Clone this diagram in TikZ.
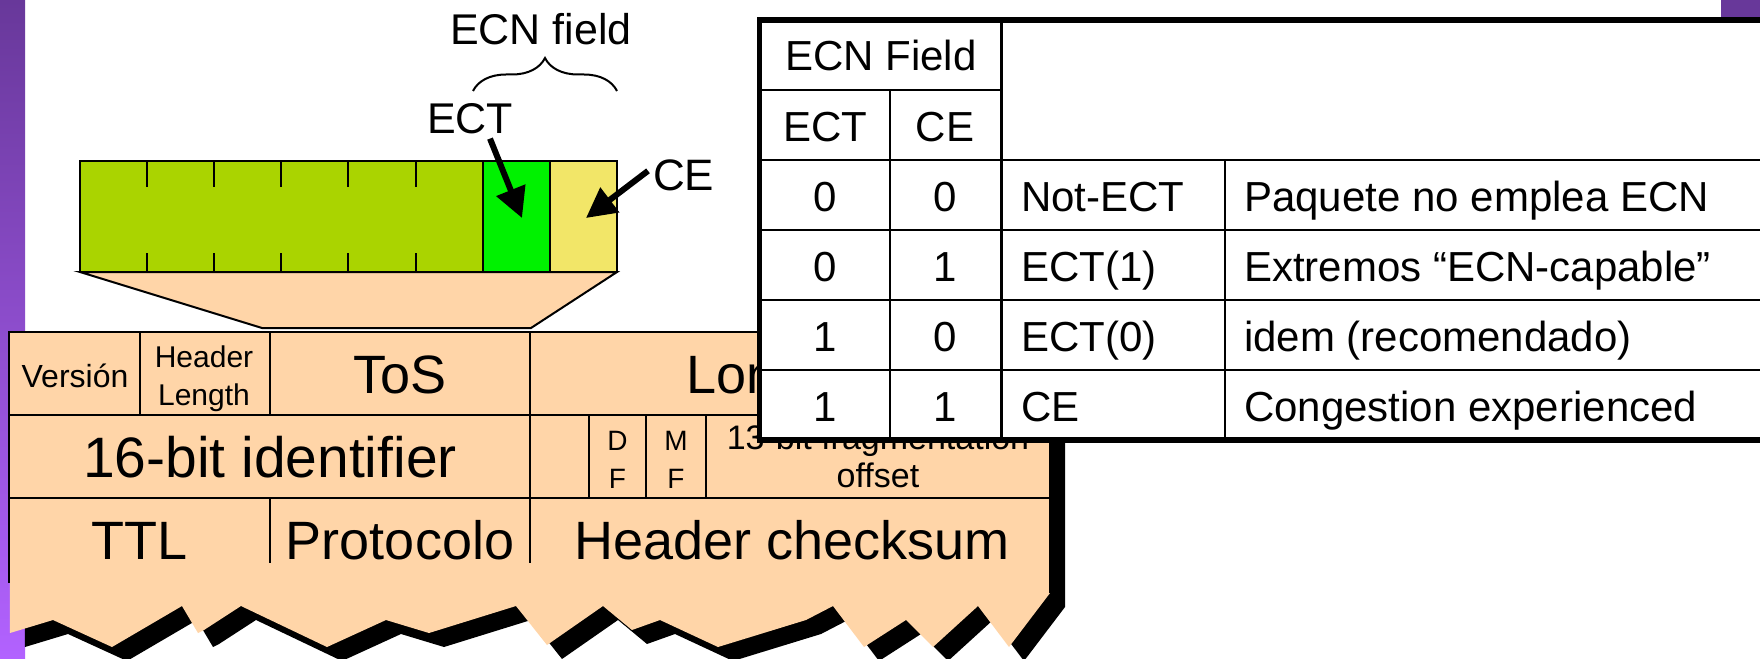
\documentclass[tikz,border=0pt]{standalone}
\usepackage{fontspec}
\setmainfont{Liberation Sans}
\usetikzlibrary{arrows.meta,decorations.pathreplacing}
\definecolor{peach}{RGB}{255,213,168}
\definecolor{barlime}{RGB}{170,212,0}
\definecolor{bargreen}{RGB}{0,242,0}
\definecolor{baryellow}{RGB}{242,230,104}
\definecolor{purpletop}{RGB}{104,56,154}
\definecolor{purplebot}{RGB}{178,98,255}
\newcommand\myfs[1]{\fontsize{#1}{#1}\selectfont}
\newcommand\hdrshape{(8.6,332) -- (1050,332) -- (1050,593) -- (1009,647) -- (978,606) -- (933,647) -- (906,620) -- (864,647) -- (833,606) -- (806,620) -- (718,647) -- (660,620) -- (632,630) -- (603,606) -- (547,645) -- (516,606) -- (429,633) -- (386,620) -- (327,647) -- (241,606) -- (204,630) -- (198,633) -- (182,606) -- (112,647) -- (53,620) -- (10,633) -- cycle}
\begin{document}
\begin{tikzpicture}[x=1pt,y=-1pt,
  lbl/.style={inner sep=0pt,anchor=base},
  lblw/.style={inner sep=0pt,anchor=base west},
  gridline/.style={line width=2pt},
  tabline/.style={line width=2.6pt},
  tabouter/.style={line width=5.5pt},
  bigarrow/.style={line width=6pt,-{Triangle[length=30pt,width=30pt]}},
  hdrbig/.style={font=\myfs{54}},
  tabtxt/.style={font=\myfs{42}}]
\useasboundingbox (0,0) rectangle (1760,658);
\fill[white] (0,0) rectangle (1760,658);
% purple decorations
\shade[top color=purpletop,bottom color=purplebot] (0,0) rectangle (25,658);
\fill[purpletop] (1721,0) rectangle (1760,18);
% ECN field brace
\draw[line width=2pt,decorate,decoration={brace,amplitude=33pt}] (473,91) -- (617,91);
\node[lbl,font=\myfs{43}] (ecnlabel) at (541,45) {ECN field};
% ToS byte bar
\fill[barlime] (80,161) rectangle (483,272);
\fill[bargreen] (483,161) rectangle (550,272);
\fill[baryellow] (550,161) rectangle (617,272);
\draw[gridline] (80,161) rectangle (617,272);
\draw[gridline] (483,161) -- (483,272) (550,161) -- (550,272);
\foreach \k in {1,...,5} {
  \draw[gridline] ({80+67.1*\k},161) -- ++(0,26) ({80+67.1*\k},272) -- ++(0,-19);
}
\filldraw[fill=peach,gridline] (80,272) -- (617,272) -- (531,328) -- (262,328) -- cycle;
% IP header
\fill[black,shift={(15,14)}] \hdrshape;
\fill[peach] \hdrshape;
\draw[gridline] (8.6,583) -- (8.6,332) -- (1050,332) -- (1050,593);
\draw[gridline] (8.6,415) -- (1050,415) (8.6,498) -- (1050,498);
\draw[gridline] (139.5,332) -- (139.5,415) (270,332) -- (270,415) (530,332) -- (530,563);
\draw[gridline] (589,415) -- (589,498) (646,415) -- (646,498) (706,415) -- (706,498);
\draw[gridline] (270,498) -- (270,563);
\node[lbl,font=\myfs{32}] (version) at (75,387) {Versión};
\node[lbl,font=\myfs{30}] (hlenA) at (204,367) {Header};
\node[lbl,font=\myfs{30}] (hlenB) at (204,405) {Length};
\node[lbl,hdrbig] (tos) at (400,393) {ToS};
\node[lbl,hdrbig] (longitud) at (790,393) {Longitud};
\node[lbl,font=\myfs{57}] (ident) at (270,477) {16-bit identifier};
\node[lbl,font=\myfs{28}] (dfA) at (617.5,450) {D};
\node[lbl,font=\myfs{28}] (dfB) at (617.5,488) {F};
\node[lbl,font=\myfs{28}] (mfA) at (676,450) {M};
\node[lbl,font=\myfs{28}] (mfB) at (676,488) {F};
\node[lbl,font=\myfs{34}] (fragA) at (878,449) {13-bit fragmentation};
\node[lbl,font=\myfs{34}] (fragB) at (878,487) {offset};
\node[lbl,hdrbig] (ttl) at (140,559) {TTL};
\node[lbl,hdrbig] (proto) at (400,559) {Protocolo};
\node[lbl,hdrbig] (chk) at (792,559) {Header checksum};
% ECT / CE labels and arrows
\node[lbl,font=\myfs{43}] (ectlabel) at (470,133) {ECT};
\node[lblw,font=\myfs{44}] (celabel) at (653,190) {CE};
\coordinate (ecttip) at (522,218);
\coordinate (cetip) at (586,218);
\draw[bigarrow] ([xshift=20pt,yshift=-5pt]ectlabel.south) -- (ecttip);
\draw[bigarrow] ([xshift=-5pt,yshift=4pt]celabel.west) -- (cetip);
% ECN table
\fill[white] (759.5,20) rectangle (1800,440);
\draw[tabline] (759.5,90) -- (1001.5,90);
\foreach \yy in {160,230,300,370} { \draw[tabline] (759.5,\yy) -- (1800,\yy); }
\draw[tabline] (890,90) -- (890,440) (1001.5,20) -- (1001.5,440) (1225,160) -- (1225,440);
\draw[tabouter] (1800,20) -- (759.5,20) -- (759.5,440) -- (1800,440);
\node[lbl,tabtxt] (tECN) at (881,71) {ECN Field};
\node[lbl,tabtxt] (tECT) at (825,141) {ECT};
\node[lbl,tabtxt] (tCE) at (945,141) {CE};
\node[lbl,tabtxt] (r1a) at (825,211) {0};
\node[lbl,tabtxt] (r1b) at (945,211) {0};
\node[lblw,tabtxt] (r1c) at (1021,211) {Not-ECT};
\node[lblw,tabtxt] (r1d) at (1244,211) {Paquete no emplea ECN};
\node[lbl,tabtxt] (r2a) at (825,281) {0};
\node[lbl,tabtxt] (r2b) at (945,281) {1};
\node[lblw,tabtxt] (r2c) at (1021,281) {ECT(1)};
\node[lblw,tabtxt] (r2d) at (1244,281) {Extremos “ECN-capable”};
\node[lbl,tabtxt] (r3a) at (825,351) {1};
\node[lbl,tabtxt] (r3b) at (945,351) {0};
\node[lblw,tabtxt] (r3c) at (1021,351) {ECT(0)};
\node[lblw,tabtxt] (r3d) at (1244,351) {idem (recomendado)};
\node[lbl,tabtxt] (r4a) at (825,421) {1};
\node[lbl,tabtxt] (r4b) at (945,421) {1};
\node[lblw,tabtxt] (r4c) at (1021,421) {CE};
\node[lblw,tabtxt] (r4d) at (1244,421) {Congestion experienced};
\end{tikzpicture}
\end{document}
